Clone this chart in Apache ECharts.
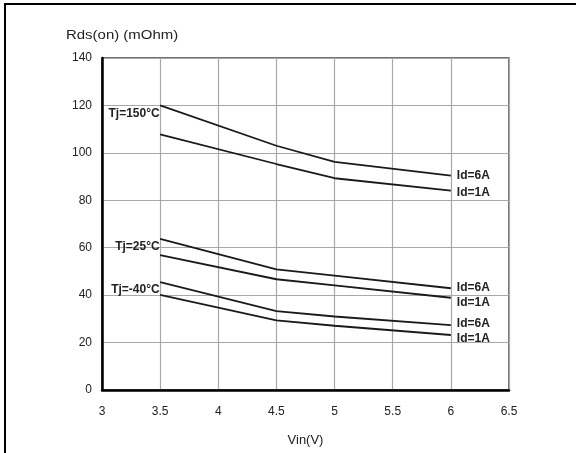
<!DOCTYPE html>
<html>
<head>
<meta charset="utf-8">
<script src="https://cdn.jsdelivr.net/npm/echarts@6/dist/echarts.min.js"></script>
<style>html,body{margin:0;padding:0;background:#fff}#c{width:576px;height:453px}</style>
</head>
<body>
<div id="c"></div>
<script>
const vin = [3.5, 4.5, 5, 6];
const tj150_6A = [120, 103, 96.2, 90.4];
const tj150_1A = [107.8, 95.3, 89.3, 84.1];
const tj25_6A = [63.7, 50.9, 48.2, 42.9];
const tj25_1A = [56.9, 46.7, 44.1, 38.9];
const tjm40_6A = [45.5, 33.3, 31.0, 27.4];
const tjm40_1A = [40.1, 29.4, 27.1, 23.2];
const tempLabels = ['Tj=150°C', 'Tj=25°C', 'Tj=-40°C'];
const idLabels = ['Id=6A', 'Id=1A'];
const xTicks = [3, 3.5, 4, 4.5, 5, 5.5, 6, 6.5];
const yTicks = [0, 20, 40, 60, 80, 100, 120, 140];

const font = 'Liberation Sans, Arial, sans-serif';
function pts(ys) { return vin.map((x, i) => [x, ys[i]]); }
function mk(name, ys, tempLabel, idLabel, idOff) {
  const s = {
    type: 'line', name: name, data: pts(ys), symbol: 'none', silent: true,
    lineStyle: { color: '#1a1a1a', width: 1.8 },
    endLabel: {
      show: true, formatter: idLabel, distance: 6, offset: [0, idOff],
      fontFamily: font, fontSize: 12, fontWeight: 'bold', color: '#222'
    },
    z: 5
  };
  if (tempLabel) {
    s.markPoint = {
      silent: true, symbol: 'circle', symbolSize: 1,
      itemStyle: { color: 'rgba(0,0,0,0)' },
      label: {
        show: true, position: 'left', distance: 0, offset: [0, 8],
        formatter: tempLabel, fontFamily: font, fontSize: 12, fontWeight: 'bold', color: '#222'
      },
      data: [{ coord: [vin[0], ys[0]] }]
    };
  }
  return s;
}

const chart = echarts.init(document.getElementById('c'), null, { renderer: 'canvas' });
chart.setOption({
  animation: false,
  backgroundColor: '#fff',
  grid: { left: 102, right: 67, top: 58, bottom: 63, show: true, borderColor: '#444', borderWidth: 1.5 },
  xAxis: {
    type: 'value', min: xTicks[0], max: xTicks[xTicks.length - 1], interval: 0.5,
    name: 'Vin(V)', nameLocation: 'middle', nameGap: 44,
    nameTextStyle: { fontFamily: font, fontSize: 13, color: '#222' },
    axisLine: { show: true, onZero: false, lineStyle: { color: '#000', width: 2.5 } },
    axisTick: { show: false },
    axisLabel: { margin: 16, fontFamily: font, fontSize: 12, color: '#222', formatter: v => String(v) },
    splitLine: { show: true, lineStyle: { color: '#a8a8a8', width: 1.2 } }
  },
  yAxis: {
    type: 'value', min: yTicks[0], max: yTicks[yTicks.length - 1], interval: 20,
    axisLine: { show: true, lineStyle: { color: '#000', width: 2.5 } },
    axisTick: { show: false },
    axisLabel: { margin: 10, fontFamily: font, fontSize: 12, color: '#222' },
    splitLine: { show: true, lineStyle: { color: '#a8a8a8', width: 1.2 } }
  },
  graphic: [{
    type: 'polyline', shape: { points: [[5, 453], [5, 4], [576, 4]] },
    style: { stroke: '#000', lineWidth: 2, fill: null }, silent: true
  }, {
    type: 'text', left: 66, top: 29, scaleX: 1.15,
    style: { text: 'Rds(on) (mOhm)', font: '13px ' + font, fill: '#222' }, silent: true
  }],
  series: [
    mk('150-6A', tj150_6A, tempLabels[0], idLabels[0], 0),
    mk('150-1A', tj150_1A, null, idLabels[1], 2),
    mk('25-6A', tj25_6A, tempLabels[1], idLabels[0], -1),
    mk('25-1A', tj25_1A, null, idLabels[1], 5),
    mk('-40-6A', tjm40_6A, tempLabels[2], idLabels[0], -1),
    mk('-40-1A', tjm40_1A, null, idLabels[1], 4)
  ]
});
</script>
</body>
</html>
